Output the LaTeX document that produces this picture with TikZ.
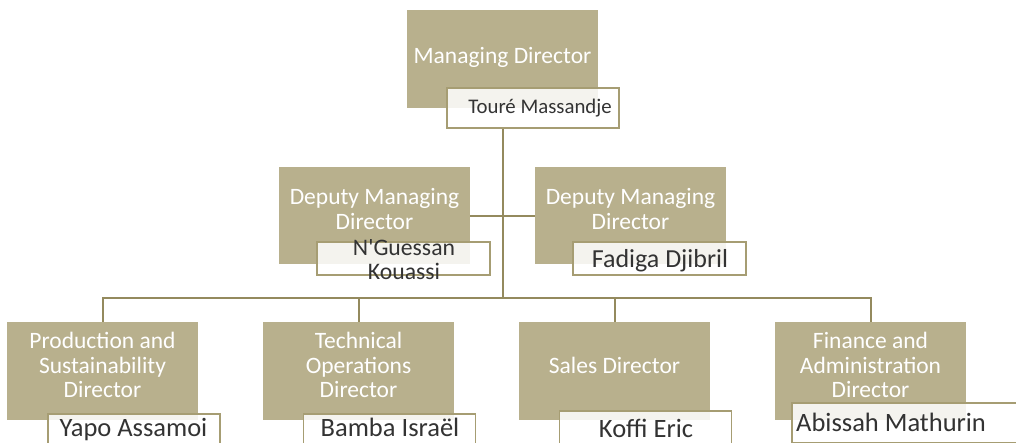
\documentclass[tikz,border=0pt]{standalone}
\usepackage{fontspec}
\setmainfont{Carlito}[Ligatures=TeXOff]
\usepackage{xcolor}

\definecolor{rolefill}{HTML}{B8B08D}
\definecolor{linkline}{HTML}{948A5E}
\definecolor{nameline}{HTML}{A69D73}
\definecolor{nameink}{HTML}{333333}

\tikzset{
  rolebox/.style={fill=rolefill, minimum width=191pt, minimum height=98pt, inner sep=0pt},
  roletext/.style={text=white, align=center, font=\fontsize{23.5}{24.5}\selectfont},
  namebox/.style={draw=nameline, line width=1.6pt, fill=white, fill opacity=0.85,
    minimum width=172pt, minimum height=40pt, inner sep=0pt},
  nametext/.style={text=nameink, inner sep=0pt, anchor=base, font=\fontsize{26.5}{27}\selectfont},
  link/.style={draw=linkline, line width=2pt}
}

\begin{document}
\begin{tikzpicture}[x=1pt,y=-1pt]
  \useasboundingbox (0,0) rectangle (1016,442);
  \clip (0,0) rectangle (1016,442);
  % managing director
  \node[rolebox] (md) at (502.5,59) {};
  \node[roletext] (mdt) at ([yshift=2pt]md.center) {Managing Director};
  \node[namebox] (mdn) at (533,108) {};
  \node[nametext, font=\fontsize{20.8}{22}\selectfont] (mdnt) at (540,113) {Touré Massandje};
  % deputies
  \node[rolebox, minimum height=97pt] (dl) at (374.5,215.5) {};
  \node[roletext] (dlt) at ([yshift=6.5pt]dl.center) {Deputy Managing\\Director};
  \node[namebox, minimum width=173pt, minimum height=33pt] (dln) at (403.5,258.5) {};
  \node[text=nameink, font=\fontsize{23.7}{24}\selectfont, align=center] (dlnt) at (404,260) {N'Guessan\\Kouassi};
  \node[rolebox, minimum height=97pt] (dr) at (630.5,215.5) {};
  \node[roletext] (drt) at ([yshift=6.5pt]dr.center) {Deputy Managing\\Director};
  \node[namebox, minimum width=173pt, minimum height=33pt] (drn) at (659.5,258.5) {};
  \node[nametext, font=\fontsize{26}{27}\selectfont] (drnt) at (660,267) {Fadiga Djibril};
  % directors
  \node[rolebox] (pd) at (102.5,371) {};
  \node[roletext] (pdt) at ([yshift=6pt]pd.center) {Production and\\Sustainability\\Director};
  \node[namebox] (pdn) at (134,434) {};
  \node[nametext] (pdnt) at (133.5,436) {Yapo Assamoi};
  \node[rolebox] (td) at (358.5,371) {};
  \node[roletext] (tdt) at ([yshift=6pt]td.center) {Technical\\Operations\\Director};
  \node[namebox] (tdn) at (389.5,434) {};
  \node[nametext] (tdnt) at (390,436) {Bamba Israël};
  \node[rolebox] (sd) at (614.5,371) {};
  \node[roletext] (sdt) at ([yshift=6pt]sd.center) {Sales Director};
  \node[namebox] (sdn) at (645.5,431) {};
  \node[nametext] (sdnt) at (646,437) {Koffi Eric};
  \node[rolebox] (fd) at (870.5,371) {};
  \node[roletext] (fdt) at ([yshift=6pt]fd.center) {Finance and\\Administration\\Director};
  \node[namebox, minimum width=228pt] (fdn) at (906,423) {};
  \node[nametext, anchor=base west] (fdnt) at (796,431) {Abissah Mathurin};
  % connectors
  \coordinate (bus) at (502.5,298);
  \draw[link] (md.south |- mdn.south) -- (bus);
  \draw[link] (dl.east) -- (dr.west);
  \draw[link] (pd.north) -- (pd.north |- bus) -- (fd.north |- bus) -- (fd.north);
  \draw[link] (td.north) -- (td.north |- bus);
  \draw[link] (sd.north) -- (sd.north |- bus);
\end{tikzpicture}
\end{document}
